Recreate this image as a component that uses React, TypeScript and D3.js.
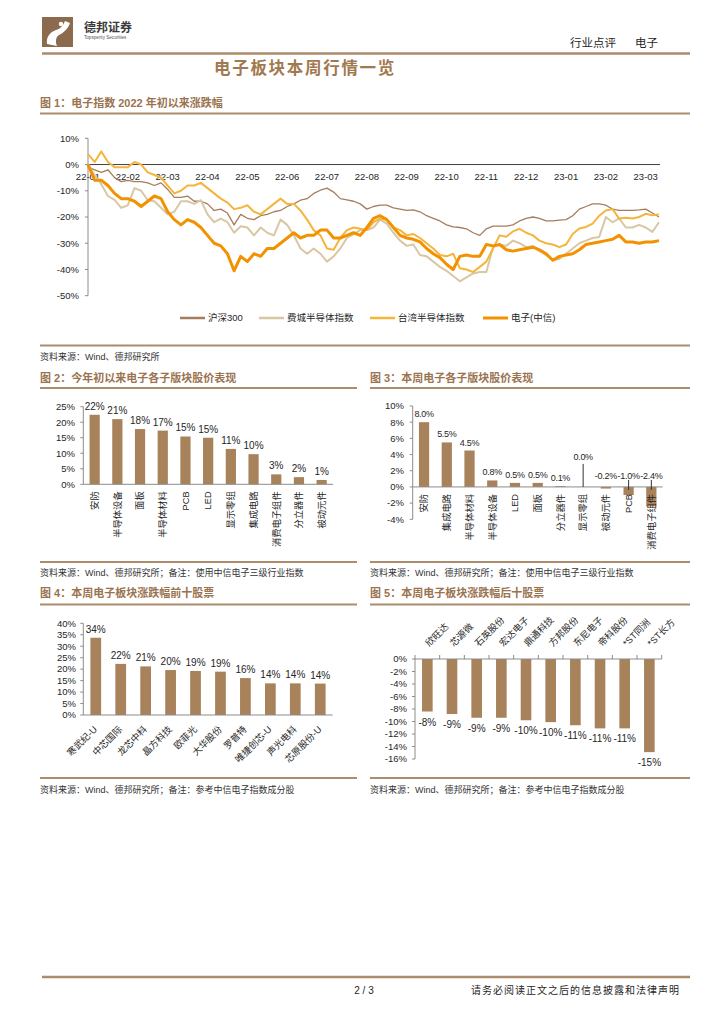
import * as d3 from "d3";

// ---- data ----
const monthLabels = ["22-01", "22-02", "22-03", "22-04", "22-05", "22-06", "22-07", "22-08", "22-09", "22-10", "22-11", "22-12", "23-01", "23-02", "23-03"];

// roughly 6 points per month, % change since 2022-01-04
const hs300 = [
  -1, -2, -3, -2, -5, -6.5, -6, -6.5, -6.5, -7,
  -8, -7, -9.5, -12.5, -12.5, -12, -14, -14, -15, -17.5,
  -17, -18.5, -23, -19, -20.5, -21, -19.5, -19, -18, -17.5,
  -16, -15, -13.6, -13, -11, -9.8, -9, -10.5, -13, -13.5,
  -14, -15, -17, -16, -15.5, -15.5, -16.5, -17, -17.5, -17.3,
  -18, -19.5, -20.5, -21.5, -23, -23.8, -24, -24.5, -26, -27,
  -24.5, -23.5, -23.5, -23.5, -23, -21.5, -20.5, -20, -20.5, -21.5,
  -21.5, -21.2, -21, -19.5, -17, -16, -15, -15, -15.5, -17,
  -17.5, -17.5, -17.5, -17.3, -17, -18.5, -20,
];
const sox = [
  0, -4, -7.5, -12, -13.5, -16.5, -15.5, -9, -10, -13.6,
  -14, -16.5, -19, -18, -14, -14, -15, -13.6, -19, -22,
  -20.6, -22, -26, -23.5, -24, -27, -24, -26, -27, -21,
  -23, -27, -32, -34, -32, -34, -37, -35, -32, -28,
  -26.5, -25, -25, -24, -21, -22.5, -26, -29, -31, -30.5,
  -34.5, -35, -37, -39, -40.5, -42.5, -44.5, -43, -41.5, -41,
  -41, -31.5, -30.5, -31, -29, -30, -31.5, -31, -33, -34.5,
  -36.5, -36, -34, -32, -30, -29, -28, -27.6, -20, -22,
  -20.5, -24, -24, -23, -24, -25.7, -22,
];
const twSemi = [
  4, 1, 5, 1, -1, -1, -1, 1, 0, -3,
  -4, -5, -8, -11, -10, -8, -8, -7, -9, -11,
  -13, -14.5, -17, -16.5, -15.5, -18, -19, -17, -15, -13,
  -15, -15, -17.5, -21, -25, -27, -32, -32.5, -28, -25,
  -24, -24.5, -25, -22, -20.6, -21, -24, -25, -27, -26.5,
  -28, -30, -32, -34.5, -35, -34, -39.5, -40, -41, -39,
  -37, -32, -27, -27.5, -25.5, -24.5, -26, -27, -29, -30,
  -30.5, -31.5, -30.5, -26.5, -24.4, -23.8, -22.5, -19.5, -17.5, -17,
  -20.6, -20.3, -20.6, -20, -18.8, -19.3, -19,
];
const elec = [
  0, -6, -6, -8, -11, -13, -13, -14, -16, -14,
  -12, -13, -18, -21, -23, -21, -22, -24, -27, -30,
  -31, -34, -40.5, -35, -37, -34, -35, -32, -32, -30,
  -28, -26, -28, -27, -27, -25, -25, -28, -28, -27,
  -26, -27, -24, -20.5, -19.5, -21, -24, -27, -28, -28.5,
  -29.5, -32, -34, -35.5, -38, -40, -35, -34.5, -35, -35,
  -30.5, -31, -30.5, -32.5, -33, -32.5, -32, -31.5, -32.5, -34,
  -36.5, -35, -34.5, -34, -32.5, -30.5, -30, -29.5, -29, -28.5,
  -27, -29.5, -29.5, -30, -29.5, -29.5, -29,
];

const ytdSectors = ["安防", "半导体设备", "面板", "半导体材料", "PCB", "LED", "显示零组", "集成电路", "消费电子组件", "分立器件", "被动元件"];
const ytdChange = [22.4, 21.0, 17.8, 17.3, 15.4, 15.0, 11.4, 9.7, 3.2, 2.3, 1.4];

const weekSectors = ["安防", "集成电路", "半导体材料", "半导体设备", "LED", "面板", "分立器件", "显示零组", "被动元件", "PCB", "消费电子组件"];
const weekChange = [8.0, 5.5, 4.5, 0.8, 0.5, 0.5, 0.1, 0.0, -0.2, -1.0, -2.4];

const topStocks = ["寒武纪-U", "中芯国际", "龙芯中科", "晶方科技", "欧菲光", "大华股份", "罗普特", "唯捷创芯-U", "声光电科", "芯原股份-U"];
const topChange = [33.7, 22.3, 21.2, 19.6, 19.2, 18.9, 16.1, 13.8, 13.8, 13.7];

const bottomStocks = ["欣旺达", "芯源微", "石英股份", "宏达电子", "鼎通科技", "方邦股份", "东尼电子", "帝科股份", "*ST同洲", "*ST长方"];
const bottomChange = [-8.4, -8.8, -9.4, -9.4, -9.8, -10.1, -10.6, -11.1, -11.1, -14.9];

// ---- styles ----
const FONT = "'Liberation Sans', Arial, 'Noto Sans CJK SC', sans-serif";
const BAR = "#a7825a";
const RULE = "#ac8c6c";
const HEAD = "#9a734f";
const AXIS = "#8c8c8c";
const INK = "#262626";

const loc = d3.formatLocale({ decimal: ".", thousands: ",", grouping: [3], currency: ["", ""], minus: "-" });
const f0 = loc.format(".0f");
const f1 = loc.format(".1f");
const pct0 = (v: number) => f0(v) + "%";
const pct1 = (v: number) => f1(v) + "%";

function IndexChart() {
  const x = d3.scaleLinear().domain([0, elec.length - 1]).range([88, 659]);
  const y = d3.scaleLinear().domain([-50, 10]).range([295.7, 138.3]);
  const line = d3.line<number>().x((_, i) => x(i)).y((v) => y(v));
  const yTicks = d3.range(-50, 11, 10);
  const series = [
    { name: "沪深300", data: hs300, color: "#a67d5c", width: 1.3, lx: 180 },
    { name: "费城半导体指数", data: sox, color: "#d9c7a3", width: 2, lx: 259 },
    { name: "台湾半导体指数", data: twSemi, color: "#f5b53a", width: 2, lx: 370 },
    { name: "电子(中信)", data: elec, color: "#f39200", width: 3, lx: 483 },
  ];
  return (
    <g>
      <line x1={88} x2={88} y1={y(10)} y2={y(-50)} stroke={AXIS} />
      {yTicks.map((t) => (
        <g key={t}>
          <line x1={85} x2={88} y1={y(t)} y2={y(t)} stroke={AXIS} />
          <text x={79} y={y(t)} dy="0.35em" textAnchor="end" fontSize={9.5} fill={INK}>
            {pct0(t)}
          </text>
        </g>
      ))}
      <line x1={88} x2={660} y1={y(0)} y2={y(0)} stroke="#404040" />
      {monthLabels.map((m, k) => (
        <text key={m} x={x(k * 6)} y={179.5} textAnchor="middle" fontSize={9.5} fill={INK}>
          {m}
        </text>
      ))}
      {series.map((s) => (
        <path key={s.name} d={line(s.data) ?? ""} fill="none" stroke={s.color} strokeWidth={s.width} strokeLinejoin="round" />
      ))}
      {series.map((s) => (
        <g key={s.name + "-lg"}>
          <line x1={s.lx} x2={s.lx + 25} y1={318} y2={318} stroke={s.color} strokeWidth={Math.max(2.5, s.width)} />
          <text x={s.lx + 28} y={318} dy="0.35em" fontSize={9.5} fill={INK}>
            {s.name}
          </text>
        </g>
      ))}
    </g>
  );
}

type BarChartProps = {
  cats: string[];
  vals: number[];
  x0: number;
  x1: number;
  domain: [number, number];
  yTop: number;
  yBottom: number;
  step: number;
  tickRight: number;
  pad: number;
  label: (v: number) => string;
  labelSize?: number;
  catStyle: "vertical" | "diagDown" | "diagUp";
  negLabelsAbove?: boolean;
  xTicks?: boolean;
};

function BarChart(p: BarChartProps) {
  const y = d3.scaleLinear().domain(p.domain).range([p.yBottom, p.yTop]);
  const x = d3.scaleBand().domain(p.cats).range([p.x0, p.x1]).paddingInner(p.pad).paddingOuter(p.pad / 2);
  const y0 = y(0);
  const ticks = d3.range(p.domain[0], p.domain[1] + p.step / 2, p.step);
  const bw = x.bandwidth();
  const ls = p.labelSize ?? 10;
  return (
    <g>
      <line x1={p.x0} x2={p.x0} y1={y(p.domain[1])} y2={y(p.domain[0])} stroke={AXIS} />
      {ticks.map((t) => (
        <g key={t}>
          <line x1={p.x0 - 3} x2={p.x0} y1={y(t)} y2={y(t)} stroke={AXIS} />
          <text x={p.tickRight} y={y(t)} dy="0.35em" textAnchor="end" fontSize={9.5} fill={INK}>
            {pct0(t)}
          </text>
        </g>
      ))}
      {p.cats.map((c, i) => {
        const v = p.vals[i];
        const bx = x(c) ?? 0;
        return <rect key={c} x={bx} y={Math.min(y(v), y0)} width={bw} height={Math.abs(y(v) - y0)} fill={BAR} />;
      })}
      <line x1={p.x0} x2={p.x1} y1={y0} y2={y0} stroke={AXIS} />
      {p.xTicks &&
        d3.range(p.cats.length + 1).map((k) => {
          const tx = p.x0 + x.step() * k;
          return <line key={"xt" + k} x1={tx} x2={tx} y1={y0} y2={y0 - 4} stroke={AXIS} />;
        })}
      {p.cats.map((c, i) => {
        const v = p.vals[i];
        const cx = (x(c) ?? 0) + bw / 2;
        let ly = v > 0 ? y(v) - 5 : y(v) + 14;
        let leader: [number, number] | null = null;
        if (v === 0) {
          ly = y0 - 27;
          leader = [y0 - 23, y0];
        } else if (v < 0 && p.negLabelsAbove) {
          ly = y0 - 8;
          if (v <= -1) leader = [y0 - 7, y0 + 3];
        }
        return (
          <g key={c + "-lb"}>
            {leader && <line x1={cx} x2={cx} y1={leader[0]} y2={leader[1]} stroke="#333" />}
            <text x={cx} y={ly} textAnchor="middle" fontSize={ls} letterSpacing={ls < 10 ? -0.3 : 0} fill={INK}>
              {p.label(v)}
            </text>
          </g>
        );
      })}
      {p.cats.map((c) => {
        const cx = (x(c) ?? 0) + bw / 2;
        if (p.catStyle === "vertical")
          return (
            <text key={c + "-cat"} transform={`translate(${cx},${y0 + 7}) rotate(-90)`} dy="0.35em" textAnchor="end" fontSize={9.3} fill={INK}>
              {c}
            </text>
          );
        if (p.catStyle === "diagDown")
          return (
            <text key={c + "-cat"} transform={`translate(${cx + 2},${y0 + 15}) rotate(-45)`} textAnchor="end" fontSize={9.3} fill={INK}>
              {c}
            </text>
          );
        return (
          <text key={c + "-cat"} transform={`translate(${cx + 2},${y0 - 12}) rotate(-45)`} textAnchor="start" fontSize={9.3} fill={INK}>
            {c}
          </text>
        );
      })}
    </g>
  );
}

function Heading({ x, y, text }: { x: number; y: number; text: string }) {
  return (
    <text x={x} y={y} fontSize={11} fontWeight="bold" fill={HEAD}>
      {text}
    </text>
  );
}

function Rule({ x1, x2, y, w = 1.8 }: { x1: number; x2: number; y: number; w?: number }) {
  return <line x1={x1} x2={x2} y1={y} y2={y} stroke={RULE} strokeWidth={w} />;
}

function Note({ x, y, text }: { x: number; y: number; text: string }) {
  return (
    <text x={x} y={y} fontSize={9} fill="#333">
      {text}
    </text>
  );
}

export default function App() {
  return (
    <svg width={724} height={1024} viewBox="0 0 724 1024" fontFamily={FONT} style={{ position: "absolute", left: 0, top: 0, background: "#fff" }}>
      {/* header */}
      <rect x={42} y={17} width={31} height={30} fill="#8b6a4e" />
      <path d="M47,44 C46,37 50,32 56,30 C60,29 63,26 65,21 L70,23 C68,29 63,33 59,35 C56,37 55,41 57,46 Z" fill="#fff" />
      <circle cx={61} cy={24} r={2.2} fill="#fff" />
      <text x={84} y={32} fontSize={12} fontWeight="bold" fill="#3a3a3a">德邦证券</text>
      <text x={84} y={39} fontSize={4.6} fill="#555">Topsperity Securities</text>
      <text x={570} y={47} fontSize={11.5} fill={INK}>行业点评</text>
      <text x={635} y={47} fontSize={11.5} fill={INK}>电子</text>
      <Rule x1={42} x2={690} y={53.5} w={2.5} />
      <text x={305} y={73.5} textAnchor="middle" fontSize={16.5} fontWeight="bold" letterSpacing={1.7} fill="#a2784f">
        电子板块本周行情一览
      </text>

      {/* figure 1 */}
      <Heading x={40} y={107} text="图 1：电子指数 2022 年初以来涨跌幅" />
      <Rule x1={40} x2={690} y={113.5} />
      <IndexChart />
      <Rule x1={40} x2={690} y={345.5} />
      <Note x={40} y={360} text="资料来源：Wind、德邦研究所" />

      {/* figures 2 & 3 */}
      <Heading x={40} y={382} text="图 2：今年初以来电子各子版块股价表现" />
      <Heading x={370} y={382} text="图 3：本周电子各子版块股价表现" />
      <Rule x1={40} x2={357} y={388} />
      <Rule x1={370} x2={690} y={388} />
      <BarChart cats={ytdSectors} vals={ytdChange} x0={83.3} x1={333} domain={[0, 25]} yTop={406.7} yBottom={484.3} step={5} tickRight={75} pad={0.55} label={pct0} catStyle="vertical" />
      <BarChart cats={weekSectors} vals={weekChange} x0={412.7} x1={662.7} domain={[-4, 10]} yTop={406} yBottom={519.3} step={2} tickRight={404} pad={0.55} label={pct1} labelSize={9} catStyle="vertical" negLabelsAbove />
      <Rule x1={40} x2={357} y={562} />
      <Rule x1={370} x2={690} y={562} />
      <Note x={40} y={576} text="资料来源：Wind、德邦研究所；备注：使用中信电子三级行业指数" />
      <Note x={370} y={576} text="资料来源：Wind、德邦研究所；备注：使用中信电子三级行业指数" />

      {/* figures 4 & 5 */}
      <Heading x={40} y={597} text="图 4：本周电子板块涨跌幅前十股票" />
      <Heading x={370} y={597} text="图 5：本周电子板块涨跌幅后十股票" />
      <Rule x1={40} x2={357} y={604.5} />
      <Rule x1={370} x2={690} y={604.5} />
      <BarChart cats={topStocks} vals={topChange} x0={83.3} x1={332.7} domain={[0, 40]} yTop={623.3} yBottom={715} step={5} tickRight={76} pad={0.57} label={pct0} catStyle="diagDown" />
      <BarChart cats={bottomStocks} vals={bottomChange} x0={415} x1={661.7} domain={[-16, 0]} yTop={659} yBottom={759} step={2} tickRight={407} pad={0.57} label={pct0} catStyle="diagUp" xTicks />
      <Rule x1={40} x2={357} y={778} />
      <Rule x1={370} x2={690} y={778} />
      <Note x={40} y={793} text="资料来源：Wind、德邦研究所；备注：参考中信电子指数成分股" />
      <Note x={370} y={793} text="资料来源：Wind、德邦研究所；备注：参考中信电子指数成分股" />

      {/* footer */}
      <Rule x1={42} x2={690} y={977} w={2.5} />
      <text x={364} y={994} textAnchor="middle" fontSize={10} fill={INK}>2 / 3</text>
      <text x={680} y={994} textAnchor="end" fontSize={10} letterSpacing={1} fill={INK}>请务必阅读正文之后的信息披露和法律声明</text>
    </svg>
  );
}
